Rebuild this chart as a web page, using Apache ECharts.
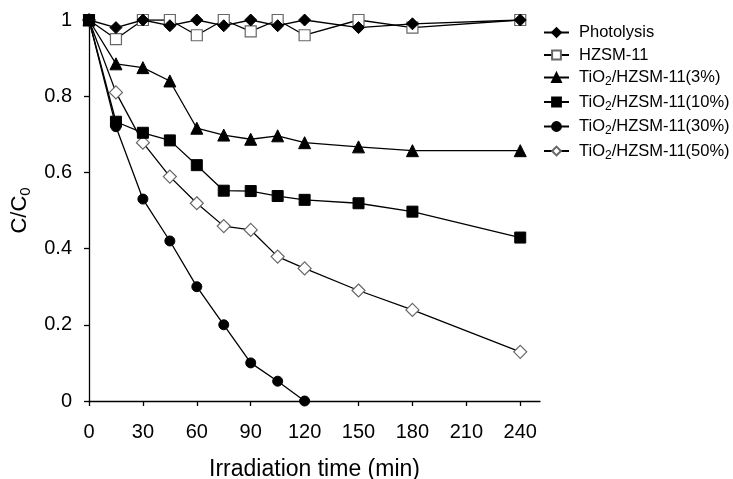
<!DOCTYPE html>
<html><head><meta charset="utf-8">
<script src="https://cdn.jsdelivr.net/npm/echarts@6/dist/echarts.min.js"></script>
<style>html,body{margin:0;padding:0;background:#fff}#c{width:733px;height:479px}</style>
</head><body><div id="c"></div>
<script>
var times = [0, 15, 30, 45, 60, 75, 90, 105, 120, 150, 180, 240];
var times30 = [0, 15, 30, 45, 60, 75, 90, 105, 120];
var xTicks = [0, 30, 60, 90, 120, 150, 180, 210, 240];
var photolysis = [1, 0.98, 1.0, 0.985, 1.0, 0.985, 1.0, 0.985, 1.0, 0.98, 0.99, 1.0];
var hzsm = [1, 0.95, 1.0, 1.0, 0.96, 1.0, 0.97, 1.0, 0.96, 1.0, 0.98, 1.0];
var tio3 = [1, 0.885, 0.875, 0.84, 0.716, 0.698, 0.687, 0.696, 0.678, 0.667, 0.657, 0.657];
var tio10 = [1, 0.733, 0.704, 0.684, 0.619, 0.552, 0.551, 0.538, 0.528, 0.519, 0.497, 0.429];
var tio30 = [1, 0.72, 0.53, 0.42, 0.30, 0.20, 0.10, 0.052, 0];
var tio50 = [1, 0.81, 0.678, 0.589, 0.519, 0.459, 0.449, 0.379, 0.348, 0.29, 0.239, 0.129];
var names = ['Photolysis', 'HZSM-11', 'TiO2/HZSM-11(3%)', 'TiO2/HZSM-11(10%)', 'TiO2/HZSM-11(30%)', 'TiO2/HZSM-11(50%)'];

function pairs(xs, ys) { return ys.map(function (v, i) { return [xs[i], v]; }); }
var font = '"Liberation Sans", Arial, sans-serif';
function mk(name, xs, ys, symbol, size, filled) {
  return {
    name: name, type: 'line', data: pairs(xs, ys),
    symbol: symbol, symbolSize: size, showSymbol: true,
    lineStyle: { color: '#000', width: 1.3 },
    itemStyle: filled ? { color: '#000', borderColor: '#000', borderWidth: 1 } : { color: '#fff', borderColor: '#666', borderWidth: 1.2 },
    emphasis: { disabled: true }, animation: false, z: filled ? 3 : 2
  };
}
var chart = echarts.init(document.getElementById('c'));
chart.setOption({
  backgroundColor: '#fff',
  animation: false,
  grid: { left: 89, right: 193, top: 20, bottom: 78, containLabel: false, outerBoundsMode: 'none' },
  legend: {
    orient: 'vertical', left: 538, top: 19, itemWidth: 25, itemHeight: 11, itemGap: 5.5,
    data: names,
    textStyle: { fontFamily: font, fontSize: 16.5, color: '#000', rich: {
      p: { fontFamily: font, fontSize: 16.5, color: '#000', padding: [0, 0, 0, 5] },
      n: { fontFamily: font, fontSize: 16.5, color: '#000' },
      s: { fontFamily: font, fontSize: 12, color: '#000', verticalAlign: 'bottom', padding: [9, 0, 0, 0] } } },
    formatter: function (n) {
      if (n.indexOf('TiO2') === 0) return '{p|TiO}{s|2}{n|' + n.slice(4) + '}';
      return '{p|' + n + '}';
    }
  },
  xAxis: {
    type: 'value', min: 0, max: 251, interval: 30,
    name: 'Irradiation time (min)', nameLocation: 'middle', nameGap: 57,
    nameTextStyle: { fontFamily: font, fontSize: 23, color: '#000' },
    axisLine: { lineStyle: { color: '#000', width: 1.3 } },
    axisTick: { show: true, length: 5, inside: false, customValues: xTicks, lineStyle: { color: '#000', width: 1.3 } },
    axisLabel: { customValues: xTicks, fontFamily: font, fontSize: 20, color: '#000', margin: 21 },
    splitLine: { show: false }
  },
  yAxis: {
    type: 'value', min: 0, max: 1, interval: 0.2,
    name: '{a|C/C}{s|0}', nameLocation: 'middle', nameGap: 51, nameRotate: 90,
    nameTextStyle: { fontFamily: font, fontSize: 22, color: '#000', rich: {
      a: { fontFamily: font, fontSize: 22, color: '#000' },
      s: { fontFamily: font, fontSize: 15, color: '#000', verticalAlign: 'bottom', padding: [11, 0, 0, 0] } } },
    axisLine: { show: true, lineStyle: { color: '#000', width: 1.3 } },
    axisTick: { show: true, length: 5, inside: false, lineStyle: { color: '#000', width: 1.3 } },
    axisLabel: { fontFamily: font, fontSize: 20, color: '#000', margin: 17 },
    splitLine: { show: false }
  },
  series: [
    mk(names[0], times, photolysis, 'diamond', 12, true),
    mk(names[1], times, hzsm, 'rect', 11, false),
    mk(names[2], times, tio3, 'triangle', 12, true),
    mk(names[3], times, tio10, 'rect', 11, true),
    mk(names[4], times30, tio30, 'circle', 10, true),
    mk(names[5], times, tio50, 'diamond', 13, false)
  ]
});
</script></body></html>
